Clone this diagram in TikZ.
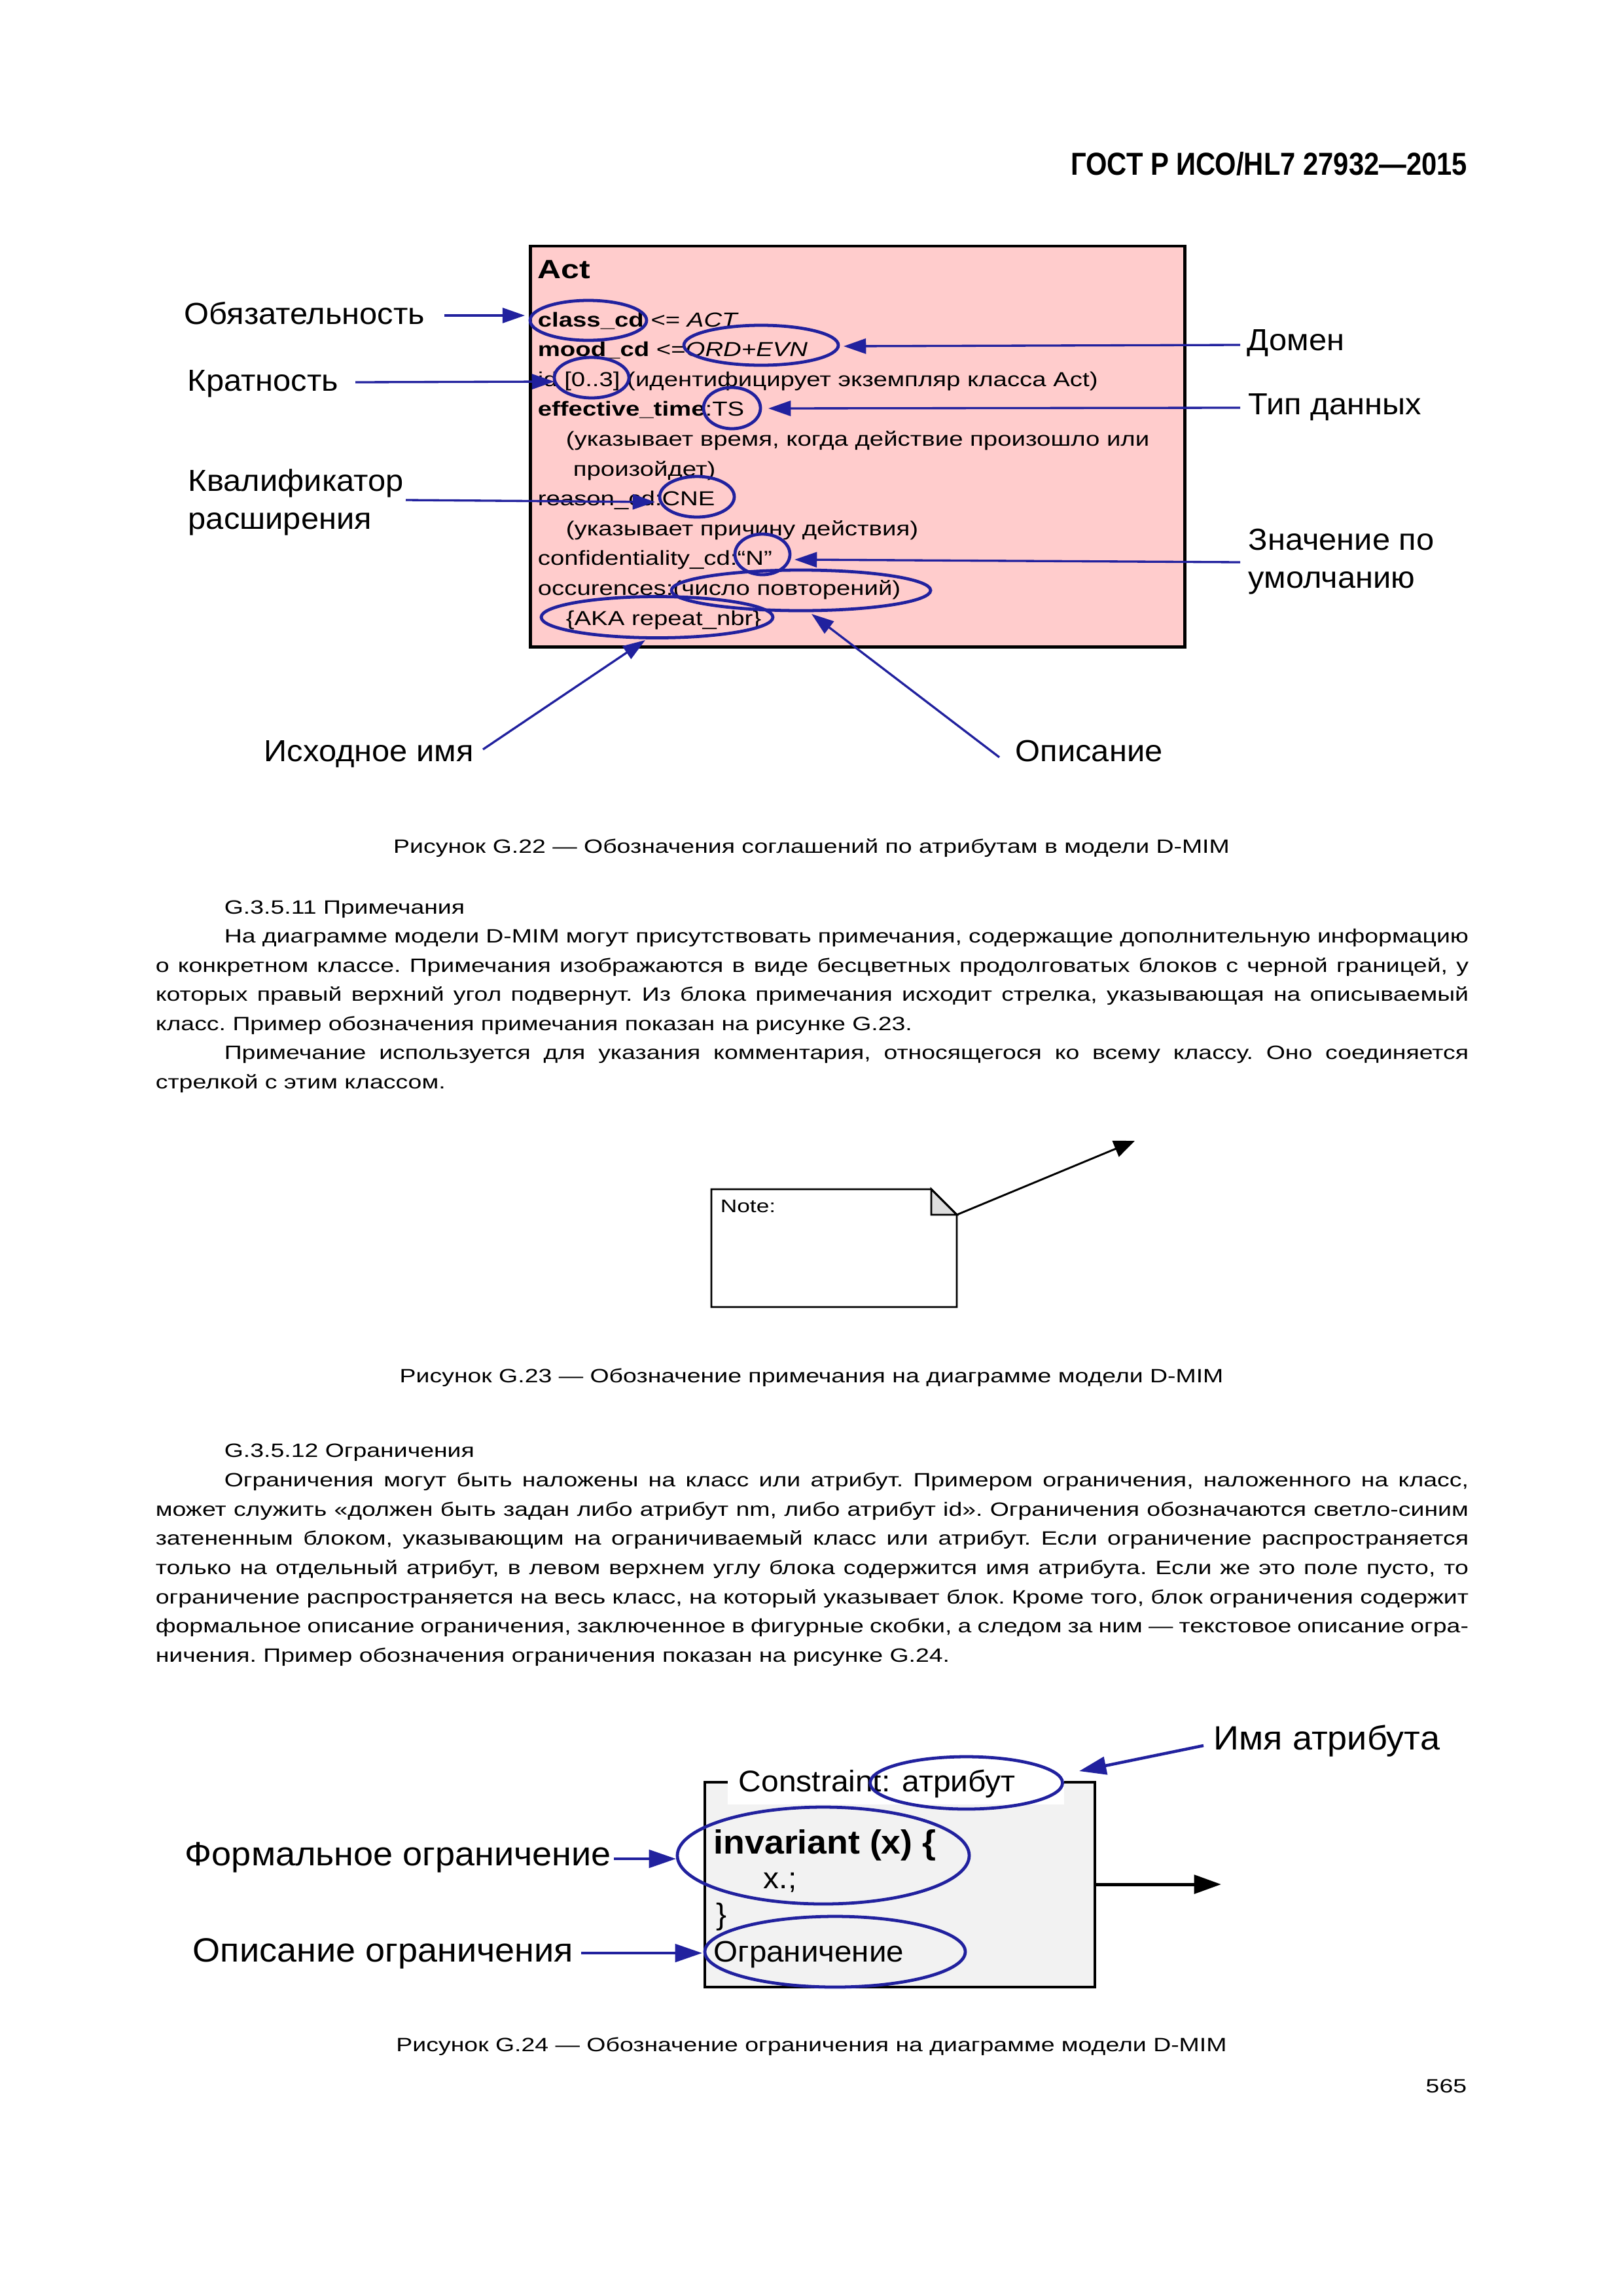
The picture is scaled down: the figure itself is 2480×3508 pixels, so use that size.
\documentclass[tikz,border=0pt]{standalone}
\usepackage{fontspec}
\setmainfont{Liberation Sans}
\newfontfamily\bodyf{Liberation Sans}[FakeStretch=1.27]
\newfontfamily\actf{Liberation Sans}[FakeStretch=1.24]
\newfontfamily\labf{Liberation Sans}[FakeStretch=1.05]
\newfontfamily\hdrf{Liberation Sans}[FakeStretch=0.86]
\usetikzlibrary{arrows.meta,shapes.geometric}
\definecolor{ablue}{RGB}{33,33,158}
\definecolor{actpink}{RGB}{255,204,204}
\definecolor{cgray}{RGB}{242,242,242}
\definecolor{foldgray}{RGB}{221,221,221}
\newcommand\U{0.0846774mm}
\newcommand\ovl[5]{\node[oval, minimum width={2*#4*\U}, minimum height={2*#5*\U}] (#1) at (#2,#3) {};}
\tikzset{
  bt/.style={font=\bodyf\fontsize{7.1pt}{9pt}\selectfont\frenchspacing, inner sep=0pt, anchor=base west},
  captxt/.style={font=\bodyf\fontsize{7.1pt}{9pt}\selectfont\frenchspacing, inner sep=0pt, anchor=base},
  act/.style={font=\actf\fontsize{7.45pt}{9pt}\selectfont, inner sep=0pt, anchor=base west},
  lab/.style={font=\labf\fontsize{11.2pt}{13pt}\selectfont, inner sep=0pt, anchor=base west},
  labb/.style={font=\labf\fontsize{12.4pt}{14pt}\selectfont, inner sep=0pt, anchor=base west},
  ctext/.style={font=\labf\fontsize{11pt}{13pt}\selectfont, inner sep=0pt, anchor=base west},
  oval/.style={ellipse, draw=ablue, line width=1.15pt, inner sep=0pt},
  barrow/.style={draw=ablue, line width=0.8pt, -{Triangle[length=2.9mm,width=1.95mm]}},
  bbarrow/.style={draw=ablue, line width=1.1pt, -{Triangle[length=3.5mm,width=2.3mm]}},
  karrow/.style={draw=black, line width=0.7pt, -{Triangle[length=2.7mm,width=2.2mm]}},
  kbarrow/.style={draw=black, line width=1.2pt, -{Triangle[length=3.5mm,width=2.4mm]}}
}
\newcommand\LW{169.86mm}
\newcommand\LWi{160.97mm}
\begin{document}
\begin{tikzpicture}[x=0.0846774mm, y=-0.0846774mm]
\useasboundingbox (0,0) rectangle (2480,3508);
\fill[white] (0,0) rectangle (2480,3508);

% header
\node[font=\hdrf\bfseries\fontsize{11.7pt}{13pt}\selectfont, inner sep=0pt, anchor=base east] (hdr) at (2243,267) {ГОСТ Р ИСО/HL7 27932—2015};

% ---------- Figure G.22 ----------
\draw[fill=actpink, line width=1.2pt] (810,376) rectangle (1810,988);
\node[act, font=\actf\bfseries\fontsize{9.7pt}{11pt}\selectfont] (tAct) at (821,425) {Act};
\node[act] (t1) at (821,499) {\textbf{class\_cd} <= \textit{ACT}};
\node[act] (t2) at (821,544.6) {\textbf{mood\_cd} <=\textit{ORD+EVN}};
\node[act] (t3) at (821,590.2) {id [0..3] (идентифицирует экземпляр класса Act)};
\node[act] (t4) at (821,635.8) {\textbf{effective\_time}:TS};
\node[act] (t5) at (864,681.4) {(указывает время, когда действие произошло или};
\node[act] (t6) at (875,727) {произойдет)};
\node[act] (t7) at (821,772.6) {reason\_cd:CNE};
\node[act] (t8) at (864,818.2) {(указывает причину действия)};
\node[act] (t9) at (821,863.8) {confidentiality\_cd:“N”};
\node[act] (t10) at (821,909.4) {occurences:(число повторений)};
\node[act] (t11) at (864,955) {\{AKA repeat\_nbr\}};

\ovl{eCls}{899}{489.5}{89}{30.5}
\ovl{eOrd}{1163}{527.5}{118}{30.5}
\ovl{eId}{904}{577}{57}{31}
\ovl{eTs}{1118.5}{623.5}{43.5}{31.5}
\ovl{eCne}{1065}{759}{57}{31}
\ovl{eN}{1165}{847}{42}{31}
\ovl{eOcc}{1224}{902}{198}{31}
\ovl{eAka}{1004}{943}{177}{31.5}

\node[lab] (lObyaz) at (281,495) {Обязательность};
\node[lab] (lKrat) at (286,597) {Кратность};
\node[lab] (lKval1) at (287,750) {Квалификатор};
\node[lab] (lKval2) at (287,808) {расширения};
\node[lab] (lDom) at (1905,535) {Домен};
\node[lab] (lTip) at (1907,633) {Тип данных};
\node[lab] (lZn1) at (1907,840) {Значение по};
\node[lab] (lZn2) at (1907,898) {умолчанию};
\node[lab] (lIsh) at (403,1163) {Исходное имя};
\node[lab] (lOpis) at (1551,1163) {Описание};

\coordinate (a1s) at (679,482);  \coordinate (a1t) at (802,482);
\coordinate (a2s) at (543,584);  \coordinate (a2t) at (847,583);
\coordinate (a3s) at (620,764);  \coordinate (a3t) at (1001,767);
\coordinate (a4s) at (1895,527); \coordinate (a4t) at (1289,529);
\coordinate (a5s) at (1895,623); \coordinate (a5t) at (1174,624);
\coordinate (a6s) at (1895,859); \coordinate (a6t) at (1214,855);
\coordinate (a7s) at (738,1145); \coordinate (a7t) at (986,978);
\coordinate (a8s) at (1527,1157);\coordinate (a8t) at (1240,938);
\foreach \i in {1,...,8}{\draw[barrow] (a\i s) -- (a\i t);}

\node[captxt] (cap22) at (1240,1303) {Рисунок G.22 — Обозначения соглашений по атрибутам в модели D-MIM};

% ---------- Text G.3.5.11 ----------
\node[bt] (h11) at (342,1396) {G.3.5.11 Примечания};
\node[bt] (p1) at (342,1440.5) {\makebox[\LWi][s]{На диаграмме модели D-MIM могут присутствовать примечания, содержащие дополнительную информацию}};
\node[bt] (p2) at (237,1485) {\makebox[\LW][s]{о конкретном классе. Примечания изображаются в виде бесцветных продолговатых блоков с черной границей, у}};
\node[bt] (p3) at (237,1529.5) {\makebox[\LW][s]{которых правый верхний угол подвернут. Из блока примечания исходит стрелка, указывающая на описываемый}};
\node[bt] (p4) at (237,1574) {класс. Пример обозначения примечания показан на рисунке G.23.};
\node[bt] (p5) at (342,1618.5) {\makebox[\LWi][s]{Примечание используется для указания комментария, относящегося ко всему классу. Оно соединяется}};
\node[bt] (p6) at (237,1663) {стрелкой с этим классом.};

% ---------- Figure G.23 ----------
\draw[line width=0.7pt, fill=white] (1087,1817) -- (1423,1817) -- (1462,1856) -- (1462,1997) -- (1087,1997) -- cycle;
\draw[line width=0.7pt, fill=foldgray] (1423,1817) -- (1462,1856) -- (1423,1856) -- cycle;
\node[font=\bodyf\fontsize{6.7pt}{8pt}\selectfont, inner sep=0pt, anchor=base west] (note) at (1100,1852) {Note:};
\coordinate (nS) at (1462,1856); \coordinate (nT) at (1734,1743);
\draw[karrow] (nS) -- (nT);
\node[captxt] (cap23) at (1240,2112) {Рисунок G.23 — Обозначение примечания на диаграмме модели D-MIM};

% ---------- Text G.3.5.12 ----------
\node[bt] (h12) at (342,2226) {G.3.5.12 Ограничения};
\node[bt] (q1) at (342,2271) {\makebox[\LWi][s]{Ограничения могут быть наложены на класс или атрибут. Примером ограничения, наложенного на класс,}};
\node[bt] (q2) at (237,2316) {\makebox[\LW][s]{может служить «должен быть задан либо атрибут nm, либо атрибут id». Ограничения обозначаются светло-синим}};
\node[bt] (q3) at (237,2360.5) {\makebox[\LW][s]{затененным блоком, указывающим на ограничиваемый класс или атрибут. Если ограничение распространяется}};
\node[bt] (q4) at (237,2405) {\makebox[\LW][s]{только на отдельный атрибут, в левом верхнем углу блока содержится имя атрибута. Если же это поле пусто, то}};
\node[bt] (q5) at (237,2450) {\makebox[\LW][s]{ограничение распространяется на весь класс, на который указывает блок. Кроме того, блок ограничения содержит}};
\node[bt] (q6) at (237,2494.5) {\makebox[\LW][s]{формальное описание ограничения, заключенное в фигурные скобки, а следом за ним — текстовое описание огра-}};
\node[bt] (q7) at (237,2539.5) {ничения. Пример обозначения ограничения показан на рисунке G.24.};

% ---------- Figure G.24 ----------
\draw[fill=cgray, line width=1.1pt] (1077,2723) rectangle (1673,3036);
\fill[white] (1112,2688) rectangle (1626,2757);
\node[ctext] (cName) at (1128,2737) {Constraint: атрибут};
\node[ctext, font=\labf\bfseries\fontsize{12.3pt}{14pt}\selectfont] (cInv) at (1090,2832) {invariant (x) \{};
\node[ctext] (cX) at (1166,2885) {x.;};
\node[ctext] (cBr) at (1094,2940) {\}};
\node[ctext, font=\labf\fontsize{10.9pt}{13pt}\selectfont] (cOgr) at (1090,2997) {Ограничение};

\ovl{eAtr}{1476.6}{2724}{147}{40}
\ovl{eInv}{1258}{2835}{223}{74}
\ovl{eOgr}{1276}{2982}{199}{54}

\node[labb] (lImya) at (1854,2673) {Имя атрибута};
\node[labb] (lForm) at (282,2850) {Формальное ограничение};
\node[labb] (lOpOgr) at (294,2997) {Описание ограничения};

\coordinate (b1s) at (1839,2667); \coordinate (b1t) at (1649,2706);
\coordinate (b2s) at (938,2840);  \coordinate (b2t) at (1033,2840);
\coordinate (b3s) at (888,2984);  \coordinate (b3t) at (1073,2984);
\draw[bbarrow] (b1s) -- (b1t);
\draw[bbarrow] (b2s) -- (b2t);
\draw[bbarrow] (b3s) -- (b3t);
\coordinate (kS) at (1673,2879); \coordinate (kT) at (1866,2879);
\draw[kbarrow] (kS) -- (kT);

\node[captxt] (cap24) at (1240,3134.5) {Рисунок G.24 — Обозначение ограничения на диаграмме модели D-MIM};

\node[font=\bodyf\fontsize{7.1pt}{9pt}\selectfont, inner sep=0pt, anchor=base east] (pnum) at (2242,3197) {565};
\end{tikzpicture}
\end{document}
